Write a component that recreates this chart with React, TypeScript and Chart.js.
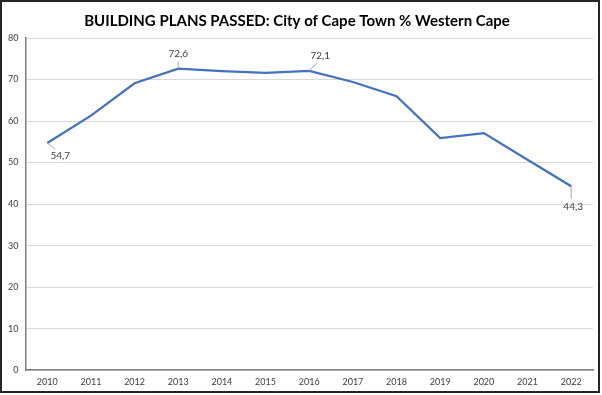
import React, { useEffect, useRef } from "react";
import { Chart, registerables } from "chart.js";

Chart.register(...registerables);

const years = ["2010", "2011", "2012", "2013", "2014", "2015", "2016", "2017", "2018", "2019", "2020", "2021", "2022"];
const share = [54.7, 61.3, 69.1, 72.6, 72.0, 71.6, 72.1, 69.4, 66.0, 55.9, 57.1, 50.7, 44.3];
const labelledIdx = [0, 3, 6, 12];
const yTicks = [0, 10, 20, 30, 40, 50, 60, 70, 80];
const titleText = "BUILDING PLANS PASSED: City of Cape Town % Western Cape";

const FONT = "'Lato', 'DejaVu Sans', sans-serif";

// label placement (style): [leader dx, leader dy, text dx, text dy]
const labelStyle: Record<number, number[]> = {
  0: [8, 6, 13, 13],
  3: [0, -7, 0, -15],
  6: [8, -8, 11, -15],
  12: [0, 12, 2, 21],
};

const labelPlugin = {
  id: "pointLabels",
  afterDatasetsDraw(chart: any) {
    const ctx = chart.ctx;
    const meta = chart.getDatasetMeta(0);
    ctx.save();
    ctx.font = `10px ${FONT}`;
    ctx.fillStyle = "#404040";
    ctx.textAlign = "center";
    ctx.textBaseline = "middle";
    ctx.strokeStyle = "#a6a6a6";
    ctx.lineWidth = 1;
    labelledIdx.forEach((i) => {
      const pt = meta.data[i];
      const s = labelStyle[i];
      ctx.beginPath();
      ctx.moveTo(pt.x, pt.y);
      ctx.lineTo(pt.x + s[0], pt.y + s[1]);
      ctx.stroke();
      ctx.fillText(share[i].toFixed(1).replace(".", ","), pt.x + s[2], pt.y + s[3]);
    });
    ctx.restore();
  },
};

export default function App() {
  const ref = useRef<HTMLCanvasElement>(null);
  useEffect(() => {
    const chart = new Chart(ref.current!, {
      type: "line",
      data: {
        labels: years,
        datasets: [
          {
            data: share,
            borderColor: "#4472c4",
            borderWidth: 2.25,
            pointRadius: 0,
            tension: 0,
            fill: false,
          },
        ],
      },
      options: {
        animation: false,
        responsive: false,
        maintainAspectRatio: false,
        layout: { padding: { left: -1, right: 5, top: 0, bottom: -2 } },
        plugins: {
          legend: { display: false },
          tooltip: { enabled: false },
          title: {
            display: true,
            text: titleText,
            color: "#000000",
            font: { family: FONT, size: 15, weight: "bold" },
            padding: { top: 10, bottom: 8 },
          },
        },
        scales: {
          x: {
            offset: true,
            grid: { display: false, drawTicks: false },
            border: { display: true, color: "#808080", width: 1.5 },
            ticks: { color: "#404040", font: { family: FONT, size: 9 }, padding: 6, maxRotation: 0 },
          },
          y: {
            min: 0,
            max: 80,
            afterBuildTicks: (axis: any) => {
              axis.ticks = yTicks.map((v) => ({ value: v }));
            },
            grid: { color: "#d9d9d9", lineWidth: 1, drawTicks: false },
            border: { display: true, color: "#808080", width: 1.5 },
            ticks: { color: "#404040", font: { family: FONT, size: 9 }, padding: 7 },
          },
        },
      },
      plugins: [labelPlugin],
    });
    return () => chart.destroy();
  }, []);
  return (
    <div
      style={{
        position: "fixed",
        left: 0,
        top: 0,
        width: 602,
        height: 395,
        background: "#fff",
      }}
    >
      <div
        style={{
          position: "absolute",
          left: 0,
          top: 0,
          width: 600,
          height: 393,
          boxSizing: "border-box",
          border: "2px solid #262626",
          background: "#fff",
        }}
      >
        <canvas ref={ref} width={596} height={389} style={{ display: "block" }} />
      </div>
    </div>
  );
}
